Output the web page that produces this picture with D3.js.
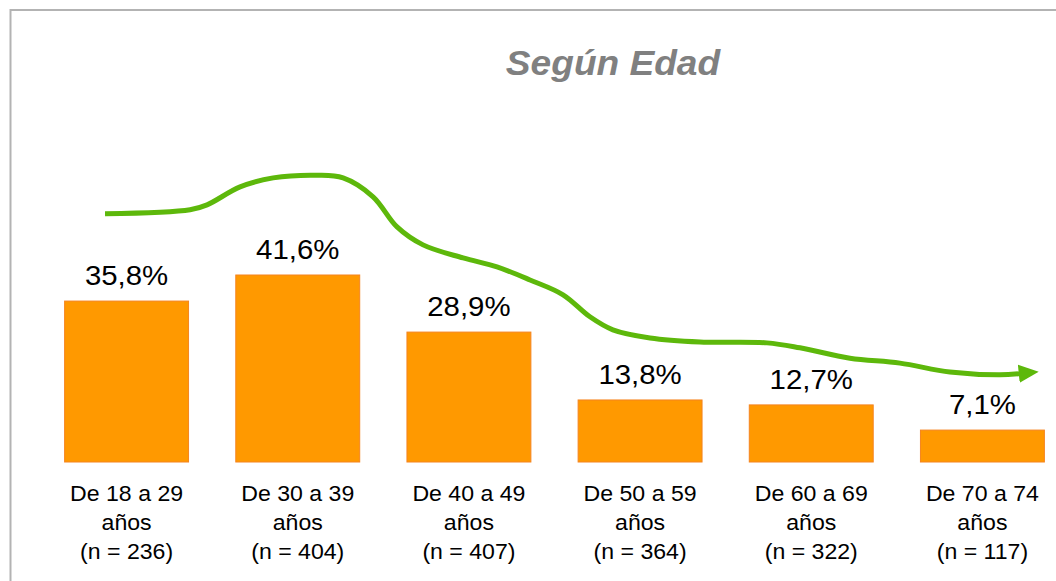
<!DOCTYPE html>
<html><head><meta charset="utf-8">
<script src="https://cdn.jsdelivr.net/npm/d3@7"></script>
<style>html,body{margin:0;padding:0;background:#fff;}svg{display:block;}</style>
</head><body>
<script>
// ---- data ----
const title = "Según Edad";
const categories = ["De 18 a 29", "De 30 a 39", "De 40 a 49", "De 50 a 59", "De 60 a 69", "De 70 a 74"];
const sampleSizes = [236, 404, 407, 364, 322, 117];
const values = [35.8, 41.6, 28.9, 13.8, 12.7, 7.1];
const valueLabels = ["35,8%", "41,6%", "28,9%", "13,8%", "12,7%", "7,1%"];
// decorative trend arrow: [category position (index), level in % units]
const trendIdx = [-0.126, 0.371, 0.470, 0.663, 0.856, 1.113, 1.265, 1.440, 1.580, 1.732, 1.966, 2.164, 2.357, 2.550, 2.707, 2.841, 3.058, 3.350, 3.741, 3.934, 4.226, 4.518, 4.810, 5.102, 5.230];
const trendVal = [55.2, 56.1, 57.2, 61.2, 63.2, 63.8, 63.2, 59.0, 52.3, 48.3, 45.4, 43.4, 40.5, 37.2, 32.3, 29.4, 27.6, 26.7, 26.5, 25.4, 23.1, 22.0, 20.0, 19.4, 19.7];

const W = 1056, H = 581;
const FONT = "Liberation Sans, Arial, sans-serif";
const svg = d3.select("body").append("svg").attr("width", W).attr("height", H);

// frame
svg.append("rect").attr("x", 10.5).attr("y", 10).attr("width", W).attr("height", H)
  .attr("fill", "none").attr("stroke", "#b3b3b3").attr("stroke-width", 2);

const x = d3.scaleBand().domain(categories).range([41, 1068]).paddingInner(0.276).paddingOuter(0.138);
const y = d3.scaleLinear().domain([0, 41.6]).range([462, 275]);
const xi = d3.scaleLinear().domain([0, categories.length - 1])
  .range([x(categories[0]) + x.bandwidth() / 2, x(categories[categories.length - 1]) + x.bandwidth() / 2]);

// title
svg.append("text").attr("transform", "translate(613,75) scale(1.06,1)").attr("text-anchor", "middle")
  .attr("font-family", FONT).attr("font-weight", "bold").attr("font-style", "italic")
  .attr("font-size", 35).attr("fill", "#808080").text(title);

// bars
svg.selectAll("rect.bar").data(values).join("rect").attr("class", "bar")
  .attr("x", (d, i) => x(categories[i])).attr("width", x.bandwidth())
  .attr("y", d => y(d)).attr("height", d => y(0) - y(d))
  .attr("fill", "#FF9900").attr("stroke", "#F5841F").attr("stroke-width", 1);

// value labels
svg.selectAll("text.val").data(values).join("text").attr("class", "val")
  .attr("transform", (d, i) => `translate(${x(categories[i]) + x.bandwidth() / 2},${y(d) - 16}) scale(1.05,1)`)
  .attr("text-anchor", "middle").attr("font-family", FONT)
  .attr("font-size", 28).attr("fill", "#000").text((d, i) => valueLabels[i]);

// category labels
const cl = svg.selectAll("text.cat").data(categories).join("text").attr("class", "cat")
  .attr("transform", d => `translate(${x(d) + x.bandwidth() / 2},0) scale(1.05,1)`)
  .attr("text-anchor", "middle").attr("font-family", FONT)
  .attr("font-size", 22).attr("fill", "#000");
cl.each(function (d, i) {
  const t = d3.select(this);
  [d, "años", "(n = " + sampleSizes[i] + ")"].forEach((s, k) => {
    t.append("tspan").attr("x", 0).attr("y", 501 + k * 29).text(s);
  });
});

// trend arrow
const defs = svg.append("defs");
defs.append("marker").attr("id", "arr").attr("markerUnits", "userSpaceOnUse")
  .attr("viewBox", "0 -10 22 20").attr("refX", 3).attr("refY", 0)
  .attr("markerWidth", 22).attr("markerHeight", 20).attr("orient", "auto")
  .append("path").attr("d", "M0,-9 L20,0 L0,9 Z").attr("fill", "#5DB80B");
const line = d3.line().x(d => xi(d[0])).y(d => y(d[1])).curve(d3.curveCatmullRom.alpha(0.5));
svg.append("path").datum(trendIdx.map((v, i) => [v, trendVal[i]]))
  .attr("d", line).attr("fill", "none").attr("stroke", "#5DB80B").attr("stroke-width", 5)
  .attr("stroke-linecap", "butt").attr("marker-end", "url(#arr)");
</script>
</body></html>
